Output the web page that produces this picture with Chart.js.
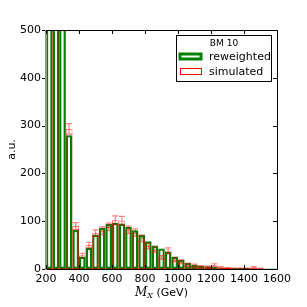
<!DOCTYPE html>
<html lang="en">
<head>
  <meta charset="UTF-8">
  <title>BM 10 - M_X</title>
  <script src="https://cdn.jsdelivr.net/npm/chart.js"></script>
  <style>
    html, body { margin: 0; padding: 0; background: #fff; }
  </style>
</head>
<body>
  <canvas id="chart" width="307" height="307"></canvas>

  <script>
    // bin centres (GeV), 40 GeV wide bins from 200 to 1600
    const binCenters = [220, 260, 300, 340, 380, 420, 460, 500, 540, 580,
                        620, 660, 700, 740, 780, 820, 860, 900, 940, 980,
                        1020, 1060, 1100, 1140, 1180, 1220, 1260, 1300, 1340, 1380,
                        1420, 1460, 1500, 1540, 1580];
    const reweighted = [2000, 2000, 1200, 280, 82, 26, 45, 72, 86, 94,
                        97, 95, 88, 81, 71, 58, 49, 43, 36, 26,
                        19, 13, 9, 7, 6, 4, 3, 3, 2, 2,
                        2, 1, 1, 1, 1];
    const simulated = [2000, 2000, 1200, 293, 90, 28, 50, 75, 80, 88,
                       102, 101, 82, 76, 64, 48, 40, 24, 38, 19,
                       15, 9, 7, 5, 4, 8, 3, 2, 1, 1,
                       1, 3, 1, 0, 0];
    const simErr = [40, 40, 35, 11, 7, 5, 6, 7, 8, 8,
                    9, 9, 8, 8, 7, 6, 6, 4, 6, 4,
                    4, 3, 3, 2, 2, 3, 2, 1, 1, 1,
                    1, 2, 1, 0, 0];
    const xTicks = [200, 400, 600, 800, 1000, 1200, 1400, 1600];
    const yTicks = [0, 100, 200, 300, 400, 500];

    const font = { family: 'DejaVu Sans', size: 11 };

    // red error bars for the simulated sample
    const errorBars = {
      id: 'errorBars',
      afterDatasetsDraw(chart) {
        const { ctx, chartArea, scales } = chart;
        ctx.save();
        ctx.beginPath();
        ctx.rect(chartArea.left, chartArea.top, chartArea.width, chartArea.height);
        ctx.clip();
        ctx.strokeStyle = 'rgba(255,0,0,0.5)';
        ctx.lineWidth = 1.2;
        binCenters.forEach((c, i) => {
          if (!simErr[i]) return;
          const x = scales.x.getPixelForValue(c);
          const y1 = scales.y.getPixelForValue(simulated[i] - simErr[i]);
          const y2 = scales.y.getPixelForValue(simulated[i] + simErr[i]);
          ctx.beginPath();
          ctx.moveTo(x, y1); ctx.lineTo(x, y2);
          ctx.moveTo(x - 3, y1); ctx.lineTo(x + 3, y1);
          ctx.moveTo(x - 3, y2); ctx.lineTo(x + 3, y2);
          ctx.stroke();
        });
        ctx.restore();
      }
    };

    // frame, inward ticks, axis titles and legend box
    const decorations = {
      id: 'decorations',
      afterDraw(chart) {
        const { ctx, chartArea: a, scales } = chart;
        ctx.save();
        ctx.strokeStyle = '#000';
        ctx.lineWidth = 1;
        ctx.beginPath();
        ctx.moveTo(a.left, a.top + 0.5); ctx.lineTo(a.right + 0.5, a.top + 0.5);
        ctx.lineTo(a.right + 0.5, a.bottom + 0.5); ctx.lineTo(a.left, a.bottom + 0.5);
        ctx.stroke();
        ctx.strokeStyle = '#959595';
        ctx.lineWidth = 2;
        ctx.beginPath();
        ctx.moveTo(a.left, a.top); ctx.lineTo(a.left, a.bottom + 1);
        ctx.stroke();

        ctx.strokeStyle = '#000';
        ctx.lineWidth = 1;
        ctx.beginPath();
        xTicks.forEach(t => {
          const x = Math.round(scales.x.getPixelForValue(t)) + 0.5;
          ctx.moveTo(x, a.top); ctx.lineTo(x, a.top + 4);
          ctx.moveTo(x, a.bottom); ctx.lineTo(x, a.bottom - 4);
        });
        yTicks.forEach(t => {
          const y = Math.round(scales.y.getPixelForValue(t)) + 0.5;
          ctx.moveTo(a.right, y); ctx.lineTo(a.right - 4, y);
          ctx.moveTo(a.left - 1, y); ctx.lineTo(a.left - 4, y);
        });
        ctx.stroke();

        // axis titles
        ctx.fillStyle = '#000';
        ctx.textBaseline = 'alphabetic';
        ctx.font = 'italic 12px "DejaVu Serif"';
        const mW = ctx.measureText('M').width;
        ctx.font = 'italic 8px "DejaVu Serif"';
        const xW = ctx.measureText('X').width;
        ctx.font = '11px "DejaVu Sans"';
        const gW = ctx.measureText(' (GeV)').width;
        let x0 = (a.left + a.right) / 2 - (mW + xW + gW) / 2;
        ctx.font = 'italic 12px "DejaVu Serif"';
        ctx.fillText('M', x0, 296);
        ctx.font = 'italic 8px "DejaVu Serif"';
        ctx.fillText('X', x0 + mW, 298);
        ctx.font = '11px "DejaVu Sans"';
        ctx.fillText(' (GeV)', x0 + mW + xW, 296);

        ctx.save();
        ctx.translate(15, (a.top + a.bottom) / 2);
        ctx.rotate(-Math.PI / 2);
        ctx.textAlign = 'center';
        ctx.fillText('a.u.', 0, 0);
        ctx.restore();

        // legend
        ctx.fillStyle = '#fff';
        ctx.fillRect(177, 35, 95, 47);
        ctx.strokeStyle = '#000';
        ctx.lineWidth = 1;
        ctx.strokeRect(176.5, 35.5, 95, 46);
        ctx.fillStyle = '#000';
        ctx.textAlign = 'center';
        ctx.textBaseline = 'middle';
        ctx.font = '9px "DejaVu Sans"';
        ctx.fillText('BM 10', 224, 44);
        ctx.strokeStyle = '#008000';
        ctx.lineWidth = 3;
        ctx.strokeRect(180, 54, 21, 5);
        ctx.strokeStyle = '#ff0000';
        ctx.lineWidth = 1;
        ctx.strokeRect(180.5, 68.5, 21, 6);
        ctx.textAlign = 'left';
        ctx.font = '11px "DejaVu Sans"';
        ctx.fillText('reweighted', 209, 57);
        ctx.fillText('simulated', 209, 72);
        ctx.restore();
      }
    };

    new Chart(document.getElementById('chart'), {
      type: 'bar',
      data: {
        datasets: [
          {
            label: 'reweighted',
            data: binCenters.map((c, i) => ({ x: c, y: reweighted[i] })),
            backgroundColor: '#ffffff',
            borderColor: '#008000',
            borderWidth: 2.4,
            borderSkipped: false,
            inflateAmount: 0,
            grouped: false,
            barPercentage: 1,
            categoryPercentage: 1,
            order: 2
          },
          {
            label: 'simulated',
            data: binCenters.map((c, i) => ({ x: c, y: simulated[i] })),
            backgroundColor: 'rgba(0,0,0,0)',
            borderColor: '#ff0000',
            borderWidth: 0.5,
            borderSkipped: false,
            inflateAmount: 0,
            grouped: false,
            barPercentage: 1,
            categoryPercentage: 1,
            order: 1
          }
        ]
      },
      options: {
        responsive: false,
        animation: false,
        devicePixelRatio: 1,
        layout: { padding: { left: 0, top: 30, right: 30, bottom: 0 } },
        plugins: { legend: { display: false }, tooltip: { enabled: false } },
        scales: {
          x: {
            type: 'linear',
            offset: false,
            min: 200,
            max: 1600,
            grid: { display: false, drawTicks: false },
            border: { display: false },
            ticks: {
              stepSize: 200, font, color: '#000', maxRotation: 0, autoSkip: false, padding: 4,
              callback: v => String(v)
            },
            afterFit(s) { s.height = 38; }
          },
          y: {
            min: 0,
            max: 500,
            grid: { display: false, drawTicks: false },
            border: { display: false },
            ticks: { stepSize: 100, font, color: '#000', padding: 5, callback: v => String(v) },
            afterFit(s) { s.width = 46; }
          }
        }
      },
      plugins: [errorBars, decorations]
    });
  </script>
</body>
</html>
